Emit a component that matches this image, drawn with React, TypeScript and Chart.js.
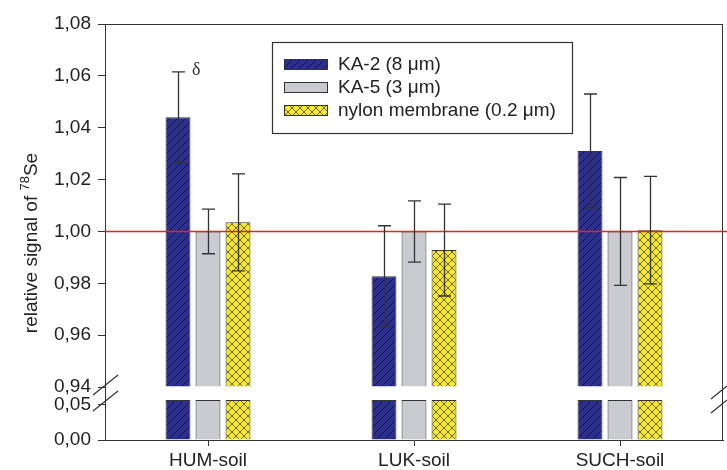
import React, { useEffect, useRef } from 'react';
import { Chart, registerables } from 'chart.js';

Chart.register(...registerables);

// ---------------- data ----------------
const categories = ['HUM-soil', 'LUK-soil', 'SUCH-soil'];
const seriesLabels = ['KA-2 (8 μm)', 'KA-5 (3 μm)', 'nylon membrane (0.2 μm)'];
const ka2Values = [1.044, 0.9827, 1.031];
const ka5Values = [1.0, 1.0, 1.0];
const nylonValues = [1.0035, 0.9928, 1.0005];
const ka2Errors = [0.0175, 0.0195, 0.022];
const ka5Errors = [0.0086, 0.0118, 0.0208];
const nylonErrors = [0.0187, 0.0177, 0.0207];
const upperTicks = [0.94, 0.96, 0.98, 1.0, 1.02, 1.04, 1.06, 1.08];
const lowerTicks = [0.0, 0.05];
const upperRange = [0.9375, 1.08];
const lowerRange = [0, 0.0664];
const lowerStub = 0.057;
const referenceValue = 1.0;
const markerText = 'δ';

const FONT = '"Liberation Sans", Arial, Helvetica, sans-serif';

function makeHatch(bg: string, line: string, cross: boolean, size: number) {
  const c = document.createElement('canvas');
  c.width = size;
  c.height = size;
  const g = c.getContext('2d')!;
  g.fillStyle = bg;
  g.fillRect(0, 0, size, size);
  g.strokeStyle = line;
  g.lineWidth = 1;
  g.beginPath();
  g.moveTo(0, size);
  g.lineTo(size, 0);
  g.moveTo(-2, 2);
  g.lineTo(2, -2);
  g.moveTo(size - 2, size + 2);
  g.lineTo(size + 2, size - 2);
  if (cross) {
    g.moveTo(0, 0);
    g.lineTo(size, size);
    g.moveTo(-2, size - 2);
    g.lineTo(2, size + 2);
    g.moveTo(size - 2, -2);
    g.lineTo(size + 2, 2);
  }
  g.stroke();
  return g.createPattern(c, 'repeat')!;
}

const fmt = (v: number) => v.toFixed(2).replace('.', ',');

export default function App() {
  const ref = useRef<HTMLCanvasElement>(null);

  useEffect(() => {
    const canvas = ref.current!;
    const blue = makeHatch('#2b2f90', '#15163f', false, 8);
    const grey = '#c9cbd0';
    const yellow = makeHatch('#f6ea1c', '#6b6640', true, 8);
    const fills = [blue, grey, yellow];
    const values = [ka2Values, ka5Values, nylonValues];
    const errors = [ka2Errors, ka5Errors, nylonErrors];

    const common = {
      borderColor: '#333',
      borderWidth: 1,
      categoryPercentage: 0.437,
      barPercentage: 0.83,
    };

    const upperSets = values.map((vals, i) => ({
      ...common,
      label: seriesLabels[i],
      data: vals,
      backgroundColor: fills[i],
      yAxisID: 'y',
      stack: 's' + i,
      base: upperTicks[0],
    }));
    const lowerSets = values.map((vals, i) => ({
      ...common,
      label: seriesLabels[i] + ' low',
      data: vals.map(() => lowerStub),
      backgroundColor: fills[i],
      yAxisID: 'y2',
      stack: 's' + i,
    }));

    const overlay = {
      id: 'overlay',
      afterDatasetsDraw(chart: any) {
        const ctx = chart.ctx as CanvasRenderingContext2D;
        const ys = chart.scales.y;
        const ca = chart.chartArea;
        ctx.save();
        const ry = Math.round(ys.getPixelForValue(referenceValue)) + 0.5;
        ctx.strokeStyle = '#e3241f';
        ctx.lineWidth = 1.3;
        ctx.beginPath();
        ctx.moveTo(ca.left, ry);
        ctx.lineTo(chart.width, ry);
        ctx.stroke();
        ctx.strokeStyle = '#333';
        ctx.lineWidth = 1.3;
        values.forEach((vals, di) => {
          const meta = chart.getDatasetMeta(di);
          meta.data.forEach((bar: any, i: number) => {
            const x = Math.round(bar.x) + 0.5;
            const t = ys.getPixelForValue(vals[i] + errors[di][i]);
            const b = ys.getPixelForValue(vals[i] - errors[di][i]);
            ctx.beginPath();
            ctx.moveTo(x, t);
            ctx.lineTo(x, b);
            ctx.moveTo(x - 6.5, t);
            ctx.lineTo(x + 6.5, t);
            ctx.moveTo(x - 6.5, b);
            ctx.lineTo(x + 6.5, b);
            ctx.stroke();
          });
        });
        const m0 = chart.getDatasetMeta(0).data[0];
        const ty = ys.getPixelForValue(ka2Values[0] + ka2Errors[0]);
        ctx.fillStyle = '#333';
        ctx.font = '18px "Liberation Serif", "Times New Roman", serif';
        ctx.textAlign = 'left';
        ctx.textBaseline = 'middle';
        ctx.fillText(markerText, m0.x + 14, ty - 2);
        ctx.restore();
      },
      afterDraw(chart: any) {
        const ctx = chart.ctx as CanvasRenderingContext2D;
        const ca = chart.chartArea;
        ctx.save();
        ctx.strokeStyle = '#333';
        ctx.lineWidth = 1;
        ctx.beginPath();
        ctx.moveTo(ca.left, Math.round(ca.top) + 0.5);
        ctx.lineTo(ca.right, Math.round(ca.top) + 0.5);
        ctx.moveTo(Math.round(ca.right) - 0.5, ca.top);
        ctx.lineTo(Math.round(ca.right) - 0.5, ca.bottom);
        ctx.stroke();
        ctx.lineWidth = 1.2;
        ctx.beginPath();
        ctx.moveTo(93, 395); ctx.lineTo(118, 375);
        ctx.moveTo(93, 411); ctx.lineTo(118, 391);
        ctx.moveTo(711, 399); ctx.lineTo(727, 386);
        ctx.moveTo(711, 413); ctx.lineTo(727, 400);
        ctx.stroke();
        const lx = 272.5, ly = 42.5, lw = 300, lh = 91;
        ctx.fillStyle = '#fff';
        ctx.fillRect(lx, ly, lw, lh);
        ctx.strokeRect(lx, ly, lw, lh);
        ctx.font = '19px ' + FONT;
        ctx.textBaseline = 'middle';
        ctx.textAlign = 'left';
        seriesLabels.forEach((lab, i) => {
          const cy = 64 + i * 23;
          ctx.fillStyle = fills[i] as any;
          ctx.fillRect(284, cy - 5, 43, 10);
          ctx.strokeStyle = '#333';
          ctx.lineWidth = 1;
          ctx.strokeRect(284.5, cy - 4.5, 43, 10);
          ctx.fillStyle = '#222';
          ctx.fillText(lab, 338, cy + 1);
        });
        const main1 = 'relative signal of ';
        const sup = '78';
        const main2 = 'Se';
        ctx.translate(30, 243);
        ctx.rotate(-Math.PI / 2);
        ctx.font = '19px ' + FONT;
        const w1 = ctx.measureText(main1).width;
        const w3 = ctx.measureText(main2).width;
        ctx.font = '13px ' + FONT;
        const w2 = ctx.measureText(sup).width;
        let x = -(w1 + w2 + w3) / 2;
        ctx.fillStyle = '#222';
        ctx.textBaseline = 'alphabetic';
        ctx.font = '19px ' + FONT;
        ctx.fillText(main1, x, 7);
        x += w1;
        ctx.font = '13px ' + FONT;
        ctx.fillText(sup, x, -1);
        x += w2;
        ctx.font = '19px ' + FONT;
        ctx.fillText(main2, x, 7);
        ctx.restore();
      },
    };

    const chart = new Chart(canvas, {
      type: 'bar',
      data: { labels: categories, datasets: [...upperSets, ...lowerSets] as any },
      options: {
        animation: false,
        responsive: false,
        maintainAspectRatio: false,
        layout: { padding: { top: 24, right: 4, left: 0, bottom: 0 } },
        plugins: { legend: { display: false }, tooltip: { enabled: false } },
        scales: {
          x: {
            grid: { display: true, drawOnChartArea: false, drawTicks: true, tickLength: 6, offset: false, color: '#333' },
            border: { display: true, color: '#333', width: 1 },
            ticks: { color: '#222', font: { size: 19, family: FONT }, padding: 3 },
            afterFit: (s: any) => { s.height = 30; },
          },
          y: {
            type: 'linear',
            position: 'left',
            stack: 'v',
            stackWeight: 369.5,
            weight: 2,
            stacked: false,
            min: upperRange[0],
            max: upperRange[1],
            afterBuildTicks: (s: any) => { s.ticks = upperTicks.map((v) => ({ value: v })); },
            grid: { drawOnChartArea: false, drawTicks: true, tickLength: 7, color: '#333' },
            border: { display: true, color: '#333', width: 1 },
            ticks: { autoSkip: false, color: '#222', font: { size: 19, family: FONT }, padding: 7, callback: (v: any) => fmt(Number(v)) },
            afterFit: (s: any) => { s.width = 105; },
          },
          y2: {
            type: 'linear',
            position: 'left',
            stack: 'v',
            stackWeight: 46.5,
            weight: 1,
            stacked: false,
            min: lowerRange[0],
            max: lowerRange[1],
            afterBuildTicks: (s: any) => { s.ticks = lowerTicks.map((v) => ({ value: v })); },
            grid: { drawOnChartArea: false, drawTicks: true, tickLength: 7, color: '#333' },
            border: { display: true, color: '#333', width: 1 },
            ticks: { autoSkip: false, color: '#222', font: { size: 19, family: FONT }, padding: 7, callback: (v: any) => fmt(Number(v)) },
            afterFit: (s: any) => { s.width = 105; },
          },
        },
      } as any,
      plugins: [overlay],
    });
    return () => chart.destroy();
  }, []);

  return (
    <div style={{ position: 'absolute', left: 0, top: 0, width: 727, height: 470, background: '#fff' }}>
      <canvas ref={ref} width={727} height={470} style={{ display: 'block' }} />
    </div>
  );
}
